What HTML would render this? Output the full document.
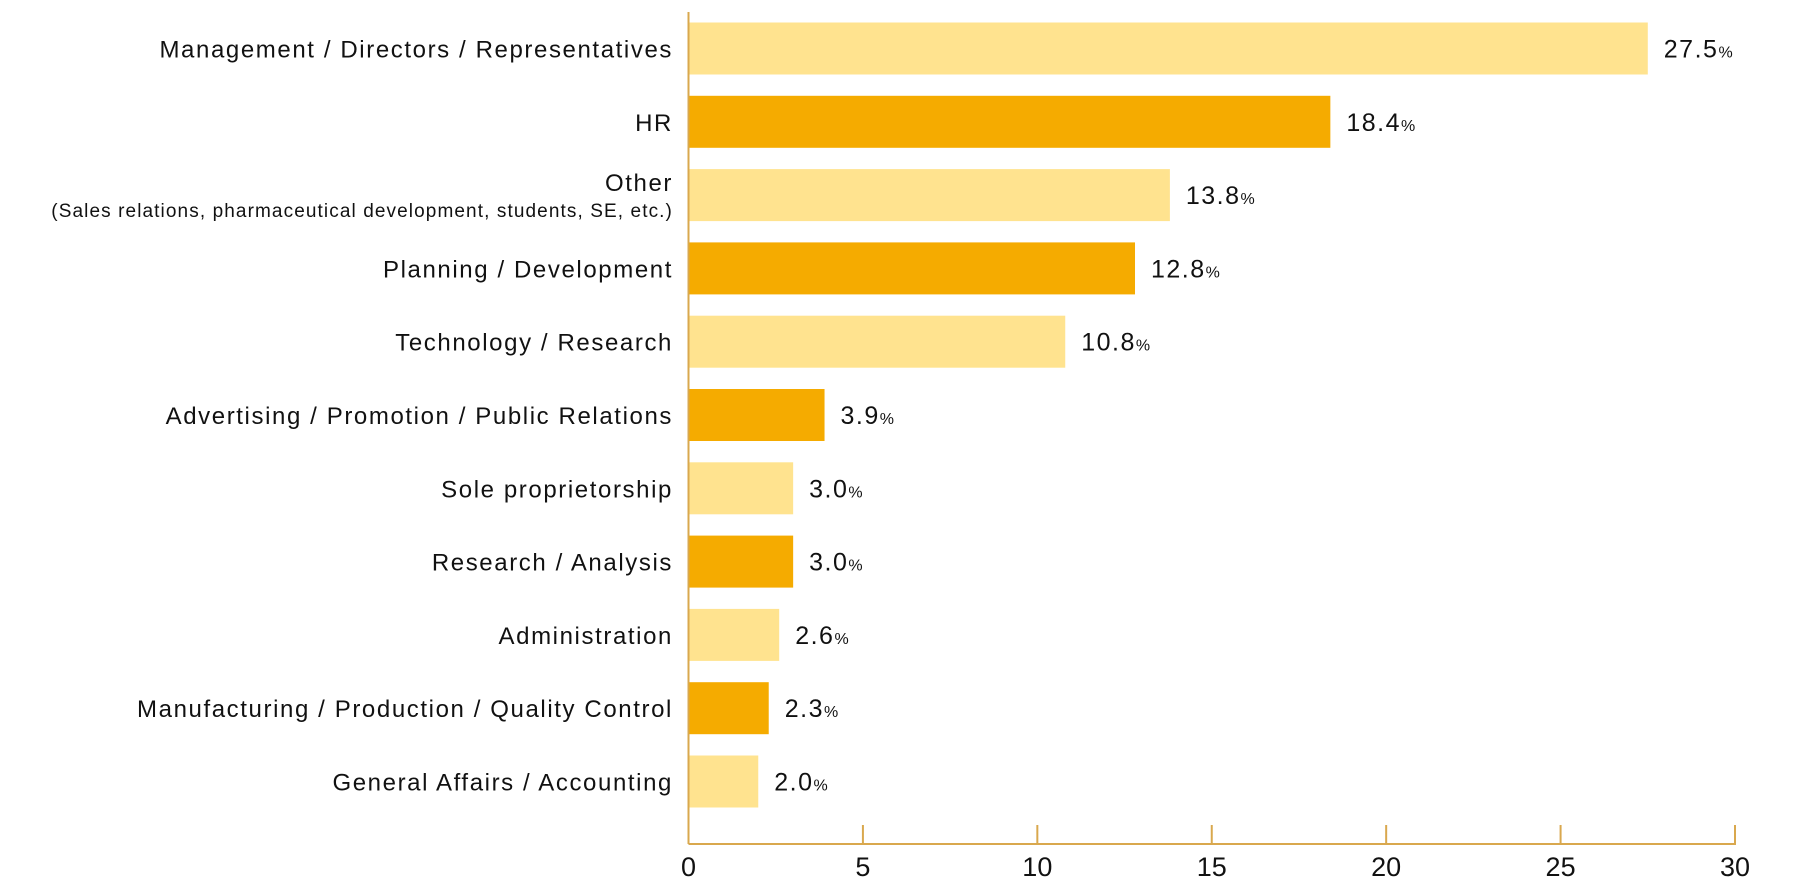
<!DOCTYPE html>
<html><head><meta charset="utf-8"><style>
body{margin:0;background:#fff;}
svg{display:block;font-family:"Liberation Sans","DejaVu Sans",sans-serif;}
</style></head><body>
<svg id="chart" width="1800" height="888"></svg>
<script>
const categories=["Management / Directors / Representatives","HR","Other","Planning / Development","Technology / Research","Advertising / Promotion / Public Relations","Sole proprietorship","Research / Analysis","Administration","Manufacturing / Production / Quality Control","General Affairs / Accounting"];
const values=[27.5,18.4,13.8,12.8,10.8,3.9,3.0,3.0,2.6,2.3,2.0];
const valueLabels=["27.5","18.4","13.8","12.8","10.8","3.9","3.0","3.0","2.6","2.3","2.0"];
const ticks=[0,5,10,15,20,25,30];
const ns="http://www.w3.org/2000/svg";
const svg=document.getElementById('chart');
const x0=688.5,x1=1735,xmax=30,yTop=48.5,pitch=73.3,barH=52,axisY=844;
const xs=v=>x0+(x1-x0)*v/xmax;
const ys=i=>yTop+i*pitch;
function mk(t,a){const e=document.createElementNS(ns,t);for(const k in a)e.setAttribute(k,a[k]);svg.appendChild(e);return e;}
categories.forEach((c,i)=>{
  const r=mk('rect',{x:x0,y:ys(i)-barH/2,width:xs(values[i])-x0,height:barH,fill:i%2?'#F5AB00':'#FFE38F'});
  
  
  if(i===2){
    const t=mk('text',{x:673,y:ys(i)-4,'text-anchor':'end','font-size':24,'letter-spacing':1.6,fill:'#111'});t.textContent="Other";
    
    
    const t2=mk('text',{x:673,y:ys(i)+22,'text-anchor':'end','font-size':19,'letter-spacing':1.1,fill:'#111'});t2.textContent="(Sales relations, pharmaceutical development, students, SE, etc.)";
    
    
  } else {
    const t=mk('text',{x:673,y:ys(i)+9,'text-anchor':'end','font-size':24,'letter-spacing':1.6,fill:'#111'});t.textContent=c;
    
    
  }
  const v=mk('text',{x:xs(values[i])+16,y:ys(i)+9,'font-size':25,fill:'#111','letter-spacing':'1.5'});
  v.innerHTML=valueLabels[i]+'<tspan font-size="16">%</tspan>';
  
  
});
const ax=mk('line',{x1:x0,y1:12,x2:x0,y2:axisY,stroke:'#D9A84E','stroke-width':2});


const bx=mk('line',{x1:x0,y1:axisY,x2:x1+1,y2:axisY,stroke:'#D9A84E','stroke-width':2});


ticks.forEach(t=>{
  const l=mk('line',{x1:xs(t),y1:825,x2:xs(t),y2:axisY,stroke:'#D9A84E','stroke-width':2});
  
  
  const tx=mk('text',{x:xs(t),y:876,'text-anchor':'middle','font-size':27,fill:'#111'});tx.textContent=t;
  
  
});
</script>
</body></html>
